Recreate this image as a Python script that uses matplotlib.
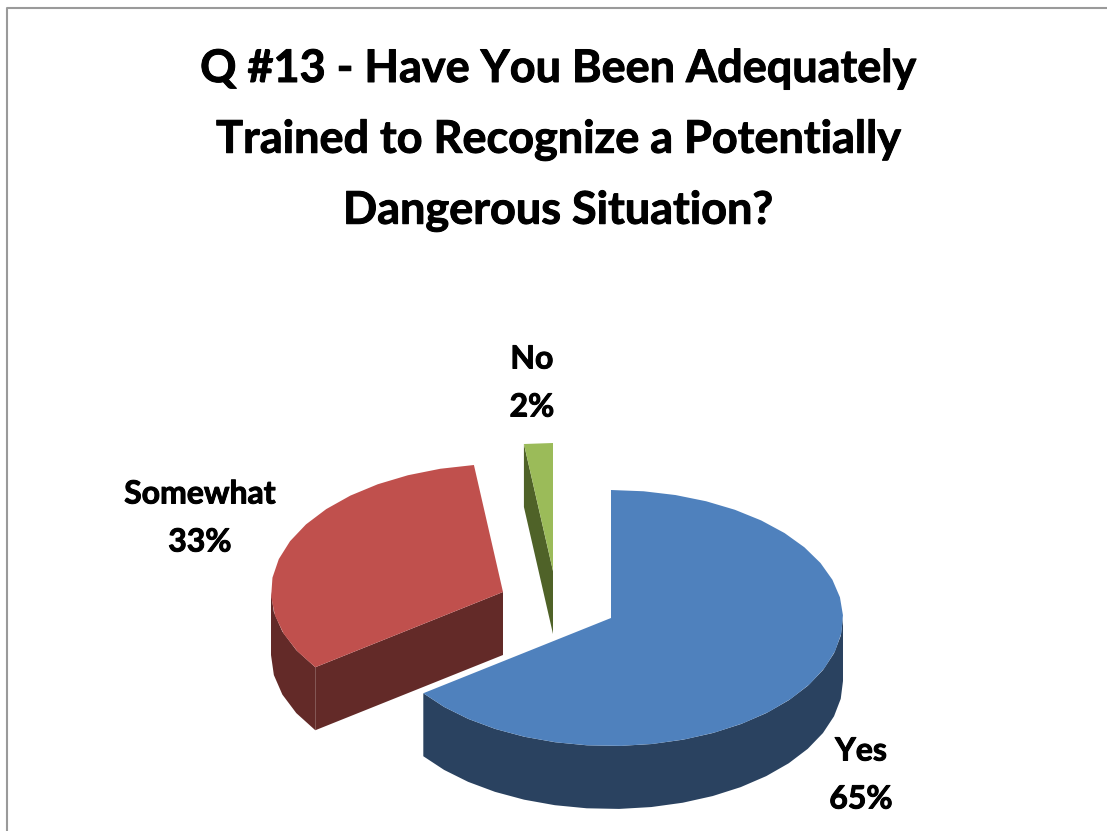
import numpy as np
import matplotlib
matplotlib.use('Agg')
import matplotlib.pyplot as plt
import matplotlib.patheffects as pe
from matplotlib.patches import Polygon

# --- Datos ---
title_lines = ['Q #13 - Have You Been Adequately',
               'Trained to Recognize a Potentially',
               'Dangerous Situation?']
categories = ['Yes', 'Somewhat', 'No']
values = [65, 33, 2]
top_colors = ['#4F81BD', '#C0504D', '#9BBB59']
side_colors = ['#2A4260', '#632A28', '#4F6228']

# centro de cada porcion (ya con la separacion) y posicion de su etiqueta
centers = [(611, 618), (503, 592), (553, 571)]
label_pos = [(861, 775), (200, 518), (532, 383)]

rx, ry = 232, 128   # elipse de la cara superior
depth = 63
step = 8            # el borde del original es poligonal

plt.rcParams['font.family'] = ['Lato', 'DejaVu Sans']

fig = plt.figure(figsize=(11.07, 8.31), dpi=100)
ax = fig.add_axes([0, 0, 1, 1])
ax.set_xlim(0, 1107)
ax.set_ylim(831, 0)
ax.axis('off')

# Marco gris del grafico
ax.plot([6.5, 6.5, 1107], [831, 7.5, 7.5], color='#9A9A9A', lw=1.5)


def rim(cx, cy, t0, t1, dy=0):
    # puntos sobre la elipse, angulo en grados desde arriba en sentido horario
    n = max(int(abs(t1 - t0) / step), 1)
    t = np.radians(np.linspace(t0, t1, n + 1))
    return np.column_stack([cx + rx * np.sin(t), cy - ry * np.cos(t) + dy])


# Angulos de cada porcion
edges = np.cumsum([0] + values) / sum(values) * 360

for i in [2, 1, 0]:
    t0, t1 = edges[i], edges[i + 1]
    cx, cy = centers[i]

    # Pared exterior: solo la mitad de abajo se ve
    a = max(t0, 90)
    b = min(t1, 270)
    if a < b:
        upper = rim(cx, cy, a, b)
        lower = rim(cx, cy, a, b, depth)[::-1]
        ax.add_patch(Polygon(np.vstack([upper, lower]), fc=side_colors[i], ec='none'))

    # Pared del corte (rojo y verde)
    if i > 0:
        p = rim(cx, cy, t0, t0)[0]
        quad = [(cx, cy), p, (p[0], p[1] + depth), (cx, cy + depth)]
        ax.add_patch(Polygon(quad, fc=side_colors[i], ec='none'))

    # Cara superior
    pts = np.vstack([[(cx, cy)], rim(cx, cy, t0, t1)])
    ax.add_patch(Polygon(pts, fc=top_colors[i], ec='none'))

# El original tiene letra mas gruesa que Lato Bold
grueso = [pe.withStroke(linewidth=0.7, foreground='black')]

# Titulo
for k, line in enumerate(title_lines):
    ax.text(558, 69 + k * 71, line, ha='center', va='center', fontsize=32.4,
            fontweight='bold', color='black', path_effects=grueso)

# Etiquetas
for name, val, (x, y) in zip(categories, values, label_pos):
    ax.text(x, y - 24, name, ha='center', va='center', fontsize=23,
            fontweight='bold', color='black', path_effects=grueso)
    ax.text(x, y + 24, f'{val}%', ha='center', va='center', fontsize=23,
            fontweight='bold', color='black', path_effects=grueso)

fig.savefig('out.png', dpi=100)
